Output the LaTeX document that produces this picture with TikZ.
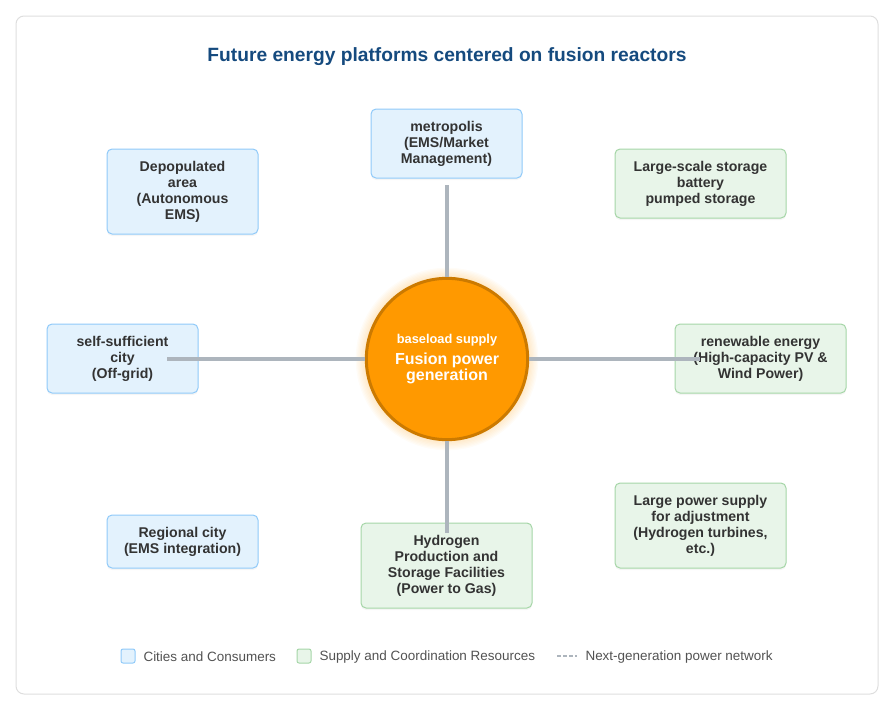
\documentclass[tikz,border=0pt]{standalone}
\usepackage{fontspec}
\setmainfont{Liberation Sans}
\usetikzlibrary{positioning, shadows}
\definecolor{cityfill}{HTML}{E3F2FD}
\definecolor{citydraw}{HTML}{90CAF9}
\definecolor{supfill}{HTML}{E8F5E9}
\definecolor{supdraw}{HTML}{A5D6A7}
\definecolor{linkgray}{HTML}{ADB5BD}
\definecolor{coreorange}{HTML}{FF9900}
\definecolor{coredraw}{HTML}{CC7A00}
\definecolor{titleblue}{HTML}{154A7E}
\definecolor{txt}{HTML}{333333}
\tikzset{
  every picture/.style={line width=0.8pt},
  box/.style={draw, rounded corners=3.75pt, line width=0.75pt, align=center,
    text=txt, inner sep=0pt, font=\fontsize{10.6}{12}\selectfont\bfseries,
    execute at begin node={\rule{0pt}{10.8pt}},
    drop shadow={opacity=0.08, shadow xshift=0pt, shadow yshift=-1.5pt}},
  cbox/.style={box, fill=cityfill, draw=citydraw},
  sbox/.style={box, fill=supfill, draw=supdraw},
  link/.style={draw=linkgray, line width=3pt},
  legbox/.style={draw, rounded corners=1.5pt, line width=0.75pt, minimum size=10.5pt, inner sep=0pt},
  legtext/.style={anchor=west, inner sep=0pt, text=txt!85, font=\fontsize{10.1}{12}\selectfont}
}
\begin{document}
\begin{tikzpicture}[x=0.75pt, y=-0.75pt]
    \useasboundingbox (0,0) rectangle (894,711);
    \draw[draw=black!13, rounded corners=6pt, line width=0.75pt] (16,16) rectangle (878,694);

    \node [font=\fontsize{14.4}{17}\selectfont\bfseries, text=titleblue] (title) at (447,57)
      {Future energy platforms centered on fusion reactors};

    % cities and consumers
    \node [cbox, minimum width=113.25pt, minimum height=51.75pt] (metro) at (446.5,143.5)
      {metropolis\\(EMS/Market\\Management)};
    \node [cbox, minimum width=113.25pt, minimum height=63.75pt] (depop) at (182.5,191.5)
      {Depopulated\\area\\(Autonomous\\EMS)};
    \node [cbox, minimum width=113.25pt, minimum height=51.75pt] (self) at (122.5,358.5)
      {self-sufficient\\city\\(Off-grid)};
    \node [cbox, minimum width=113.25pt, minimum height=39.75pt] (region) at (182.5,541.5)
      {Regional city\\(EMS integration)};

    % supply and coordination
    \node [sbox, minimum width=128.25pt, minimum height=51.75pt] (store) at (700.5,183.5)
      {Large-scale storage\\battery\\pumped storage};
    \node [sbox, minimum width=128.25pt, minimum height=51.75pt] (renew) at (760.5,358.5)
      {renewable energy\\(High-capacity PV \&\\Wind Power)};
    \node [sbox, minimum width=128.25pt, minimum height=63.75pt] (hydro) at (446.5,565.5)
      {Hydrogen\\Production and\\Storage Facilities\\(Power to Gas)};
    \node [sbox, minimum width=128.25pt, minimum height=63.75pt] (adjust) at (700.5,525.5)
      {Large power supply\\for adjustment\\(Hydrogen turbines,\\etc.)};

    % fusion core
    \coordinate (c) at (447,359);
    \foreach \i in {1,...,7}
      \fill[coreorange, opacity=0.03] (c) circle (61.5pt+\i*1pt);
    \node [circle, fill=coreorange, draw=coredraw, line width=2.25pt, minimum size=121pt,
      inner sep=0pt, text=white, align=center, font=\bfseries] (core) at (c)
      {\fontsize{9.6}{11}\selectfont baseload supply\\[4pt]
       \fontsize{12}{14.5}\selectfont Fusion power\\
       \fontsize{12}{14.5}\selectfont generation};

    \coordinate (eTop) at (447,185);
    \coordinate (eBot) at (447,533);
    \coordinate (eLeft) at (167,359);
    \coordinate (eRight) at (700,359);

    \draw[link] (core) -- (eTop);
    \draw[link] (core) -- (eBot);
    \draw[link] (core) -- (eLeft);
    \draw[link] (core) -- (eRight);

    % legend
    \node [legbox, fill=cityfill, draw=citydraw] (lc) at (128,656) {};
    \node [legtext] (lct) at (143,657) {Cities and Consumers};
    \node [legbox, fill=supfill, draw=supdraw] (ls) at (304,656) {};
    \node [legtext] (lst) at (319,657) {Supply and Coordination Resources};
    \coordinate (d1) at (557,656);
    \coordinate (d2) at (577,656);
    \draw[draw=linkgray, line width=1.5pt, dash pattern=on 3pt off 1.5pt] (d1) -- (d2);
    \node [legtext] (lnt) at (585,657) {Next-generation power network};
  \end{tikzpicture}
\end{document}
